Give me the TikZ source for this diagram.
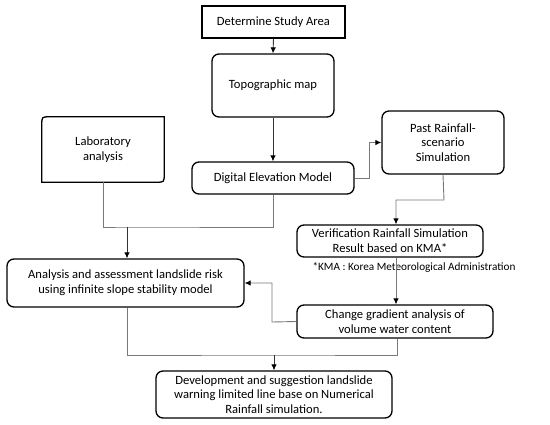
\documentclass[tikz,border=0pt]{standalone}
\usepackage{fontspec}
\setmainfont{Carlito}
\usetikzlibrary{arrows.meta}
\begin{document}
\begin{tikzpicture}[x=1pt,y=-1pt,
  box/.style={draw=black,line width=1.3pt,rounded corners=7pt,align=center,inner sep=2pt,font=\fontsize{12.6}{14.8}\selectfont},
  sharpbox/.style={draw=black,line width=1.5pt,align=center,inner sep=2pt,font=\fontsize{12.6}{14.8}\selectfont},
  plainbox/.style={align=center,inner sep=2pt,font=\fontsize{12.6}{14.8}\selectfont},
  notetext/.style={align=center,inner sep=1pt,font=\fontsize{11.2}{13}\selectfont},
  conn/.style={draw=gray!95!black,line width=0.9pt},
  dconn/.style={draw=black!80,line width=0.9pt},
  arr/.style={-{Latex[length=6pt,width=5.5pt,color=black]}}]
\useasboundingbox[fill=white] (0,0) rectangle (550,424);
\node[sharpbox,minimum width=143pt,minimum height=32pt] (dsa) at (273.5,22) {Determine Study Area};
\node[box,minimum width=122pt,minimum height=63pt] (topo) at (273,85.5) {Topographic map};
\node[box,minimum width=162pt,minimum height=32pt] (dem) at (273,178) {Digital Elevation Model};
\node[plainbox,minimum width=122pt,minimum height=65pt] (lab) at (103,149.5) {Laboratory\\analysis};
\draw[black,line width=1.3pt] (lab.north east) -- ([yshift=8pt]lab.south east) .. controls (lab.south east) .. ([xshift=-8pt]lab.south east) -- (lab.south west) -- ([yshift=-8pt]lab.north west) .. controls (lab.north west) .. ([xshift=8pt]lab.north west) -- cycle;
\node[box,minimum width=122pt,minimum height=63pt] (past) at (443,142.5) {Past Rainfall-\\scenario\\Simulation};
\node[box,minimum width=186pt,minimum height=32pt] (ver) at (390,241) {Verification Rainfall Simulation\\Result based on KMA*};
\node[notetext] (foot) at (414,267) {*KMA : Korea Meteorological Administration};
\node[box,minimum width=237pt,minimum height=48pt] (ana) at (125.5,283) {Analysis and assessment landslide risk\\using infinite slope stability model};
\node[box,minimum width=196pt,minimum height=33pt] (chg) at (395,321.5) {Change gradient analysis of\\volume water content};
\node[box,minimum width=236pt,minimum height=47pt] (dev) at (274,394.5) {Development and suggestion landslide\\warning limited line base on Numerical\\Rainfall simulation.};
\coordinate (j1) at (127,227);
\coordinate (j2) at (274,355);
\coordinate (k1) at (369,178);
\coordinate (k2) at (444,200);
\coordinate (k3) at (272,322);
% connectors
\draw[dconn,arr] (dsa.south) -- (topo.north);
\draw[dconn,arr] (topo.south) -- (dem.north);
\draw[conn,arr] (dem.east) -- (k1) |- (past.west);
\draw[conn,arr] (past.south) -- (k2) -| ([xshift=6pt]ver.north);
\draw[conn] (lab.south) |- (j1) -| (dem.south);
\draw[dconn,arr] (j1) -- (ana.north -| j1);
\draw[conn,arr] ([xshift=6pt]ver.south) -- ([xshift=1pt]chg.north);
\draw[conn,arr] (chg.west) -- (k3) |- (ana.east);
\draw[conn] ([xshift=1.5pt]ana.south) |- (j2) -| ([xshift=2pt]chg.south);
\draw[dconn,arr] (j2) -- (dev.north);
\end{tikzpicture}
\end{document}
